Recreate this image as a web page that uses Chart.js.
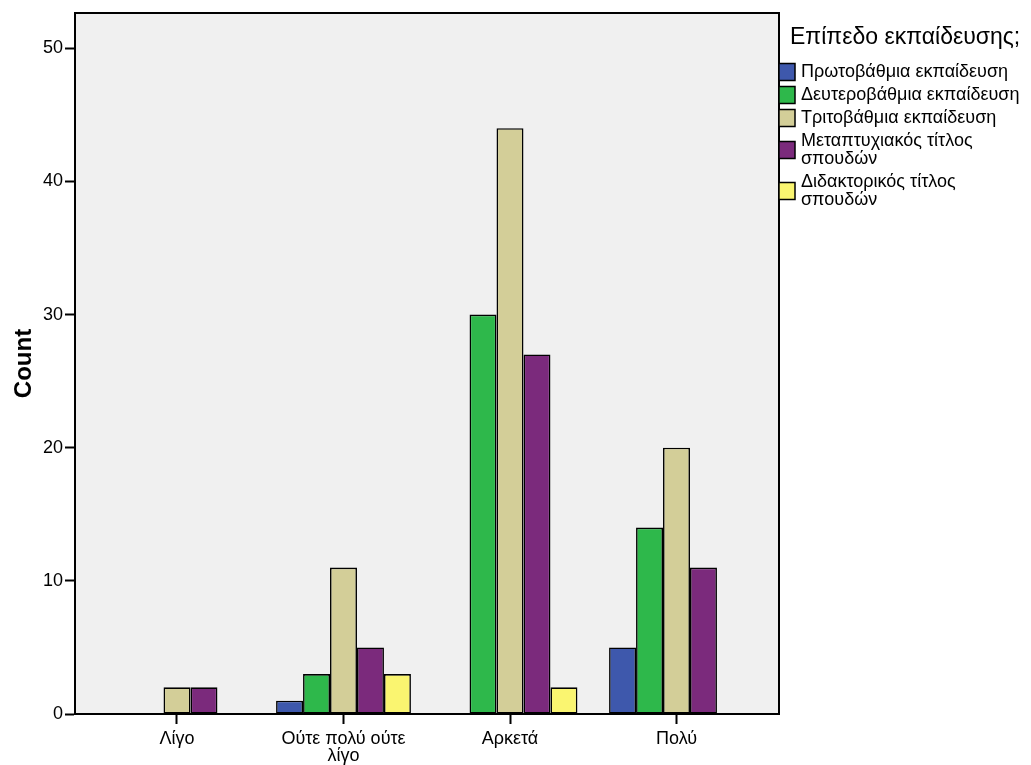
<!DOCTYPE html>
<html lang="el">
<head>
    <meta charset="UTF-8">
    <title>Count</title>
    <style>
        body { margin: 0; background: #fff; }
        canvas { display: block; }
    </style>
</head>
<body>
<canvas id="grafico" width="1031" height="765"></canvas>

<script src="https://cdn.jsdelivr.net/npm/chart.js"></script>
<script>
    // categories on the x axis
    const categories = ['Λίγο', 'Ούτε πολύ ούτε λίγο', 'Αρκετά', 'Πολύ'];

    // one array per education level (counts)
    const protovathmia   = [0, 1, 0, 5];
    const defterovathmia = [0, 3, 30, 14];
    const tritovathmia   = [2, 11, 44, 20];
    const metaptyxiakos  = [2, 5, 27, 11];
    const didaktorikos   = [0, 3, 2, 0];

    const seriesNames = [
        'Πρωτοβάθμια εκπαίδευση',
        'Δευτεροβάθμια εκπαίδευση',
        'Τριτοβάθμια εκπαίδευση',
        'Μεταπτυχιακός τίτλος σπουδών',
        'Διδακτορικός τίτλος σπουδών'
    ];
    const seriesValues = [protovathmia, defterovathmia, tritovathmia, metaptyxiakos, didaktorikos];
    const colors = ['#3E58AC', '#2EB84B', '#D3CE98', '#7B2A7C', '#FAF570'];

    const yTicks = [0, 10, 20, 30, 40, 50];
    const legendTitle = 'Επίπεδο εκπαίδευσης;';
    const yTitle = 'Count';

    Chart.defaults.font.family = "Arial, 'Liberation Sans', sans-serif";
    Chart.defaults.color = '#000';

    // split long category names on two lines like SPSS does
    function wrapLabel(txt) {
        if (txt.length <= 12) return txt;
        const i = txt.lastIndexOf(' ');
        return [txt.slice(0, i), txt.slice(i + 1)];
    }

    const plotBox = {
        id: 'plotBox',
        beforeDraw(chart) {
            const { ctx, chartArea: a } = chart;
            ctx.save();
            ctx.fillStyle = '#F0F0F0';
            ctx.fillRect(a.left, a.top, a.right - a.left, a.bottom - a.top);
            ctx.restore();
        },
        afterDraw(chart) {
            const { ctx, chartArea: a } = chart;
            ctx.save();
            ctx.strokeStyle = '#000';
            ctx.lineWidth = 2;
            ctx.beginPath();
            ctx.moveTo(a.left, a.top);
            ctx.lineTo(a.right, a.top);
            ctx.lineTo(a.right, a.bottom);
            ctx.stroke();
            ctx.restore();
        }
    };

    // legend drawn by hand so the long names can wrap
    const sideLegend = {
        id: 'sideLegend',
        afterDraw(chart) {
            const ctx = chart.ctx;
            const x0 = chart.chartArea.right;
            ctx.save();
            ctx.fillStyle = '#000';
            ctx.textBaseline = 'middle';
            ctx.font = "23px Arial, 'Liberation Sans', sans-serif";
            ctx.fillText(legendTitle, x0 + 11, 38);

            ctx.font = "18px Arial, 'Liberation Sans', sans-serif";
            const lineH = 18, maxW = 228;
            let y = 63;
            chart.data.datasets.forEach(ds => {
                const words = ds.label.split(' ');
                const lines = [];
                let cur = '';
                words.forEach(w => {
                    const test = cur ? cur + ' ' + w : w;
                    if (cur && ctx.measureText(test).width > maxW) {
                        lines.push(cur);
                        cur = w;
                    } else {
                        cur = test;
                    }
                });
                lines.push(cur);
                const h = lines.length * lineH;
                const boxY = y + h / 2 - 8.5;
                ctx.fillStyle = ds.backgroundColor;
                ctx.fillRect(x0, boxY, 16, 17);
                ctx.strokeStyle = '#000';
                ctx.lineWidth = 1.5;
                ctx.strokeRect(x0, boxY, 16, 17);
                ctx.fillStyle = '#000';
                lines.forEach((ln, k) => {
                    ctx.fillText(ln, x0 + 22, y + lineH * k + lineH / 2);
                });
                y += h + 5;
            });
            ctx.restore();
        }
    };

    const datasets = seriesNames.map((name, s) => ({
        label: name,
        data: seriesValues[s].map((v, i) => ({ x: i, y: v === 0 ? null : v })),
        backgroundColor: colors[s],
        borderColor: '#000',
        borderWidth: 1.6,
        borderSkipped: false,
        barPercentage: 1,
        categoryPercentage: 0.81
    }));

    new Chart(document.getElementById('grafico').getContext('2d'), {
        type: 'bar',
        data: { datasets: datasets },
        plugins: [plotBox, sideLegend],
        options: {
            responsive: false,
            animation: false,
            layout: { padding: { top: 13, right: 252, bottom: 0, left: 0 } },
            plugins: {
                legend: { display: false },
                tooltip: { enabled: false }
            },
            scales: {
                x: {
                    type: 'linear',
                    offset: false,
                    min: -0.6126,
                    max: 3.6156,
                    afterBuildTicks: s => { s.ticks = categories.map((c, i) => ({ value: i })); },
                    afterFit: s => { s.height = 51; },
                    ticks: {
                        autoSkip: false,
                        maxRotation: 0,
                        padding: 6,
                        font: { size: 18, lineHeight: 0.95 },
                        callback: (v) => wrapLabel(categories[v])
                    },
                    grid: {
                        offset: false,
                        drawOnChartArea: false,
                        tickLength: 10,
                        tickColor: '#000',
                        tickWidth: 2
                    },
                    border: { color: '#000', width: 2 }
                },
                y: {
                    min: 0,
                    max: 52.65,
                    afterBuildTicks: s => { s.ticks = yTicks.map(v => ({ value: v })); },
                    afterFit: s => { s.width = 75; },
                    ticks: {
                        padding: 2,
                        font: { size: 18 }
                    },
                    grid: {
                        drawOnChartArea: false,
                        tickLength: 10,
                        tickColor: '#000',
                        tickWidth: 2
                    },
                    border: { color: '#000', width: 2 },
                    title: {
                        display: true,
                        text: yTitle,
                        font: { size: 24, weight: 'bold' },
                        padding: { top: 10, bottom: 0 }
                    }
                }
            }
        }
    });
</script>
</body>
</html>
